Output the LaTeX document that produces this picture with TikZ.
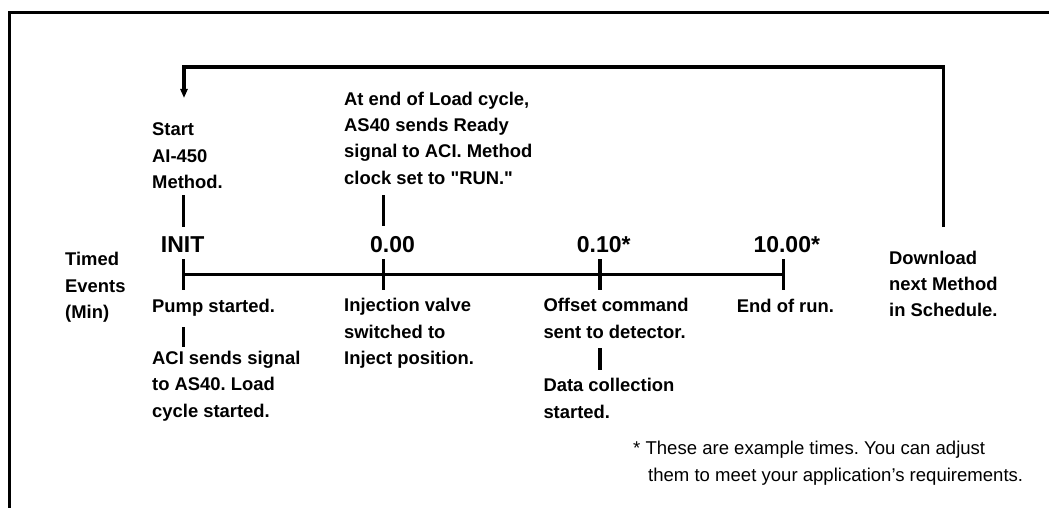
\documentclass[tikz,border=0pt]{standalone}
\usepackage{fontspec}
\setmainfont{Liberation Sans}
\usetikzlibrary{arrows.meta}
\frenchspacing
\begin{document}
\begin{tikzpicture}[x=1pt,y=-1pt,
  lbl/.style={font=\fontsize{18.4}{26.3}\selectfont\bfseries\frenchspacing, align=left, inner sep=0pt, anchor=base west},
  num/.style={font=\fontsize{23}{27}\selectfont\bfseries, inner sep=0pt, anchor=base west},
  note/.style={font=\fontsize{18.55}{27.5}\selectfont\frenchspacing, align=left, inner sep=0pt, anchor=base west},
  bar/.style={line width=3.5pt},
  frame/.style={line width=3.3pt},
  loopline/.style={line width=3.3pt, line join=miter, -{Triangle[length=9pt,width=7pt]}},
]
\useasboundingbox (0,0) rectangle (1049,508);
% open frame
\coordinate (fb) at (9.5,508);
\coordinate (fc) at (9.5,12.5);
\coordinate (fr) at (1049,12.5);
\draw[frame] (fb) -- (fc) -- (fr);

% timeline
\coordinate (t0) at (183.5,274.5);
\coordinate (t1) at (383.5,274.5);
\coordinate (t2) at (600,274.5);
\coordinate (t3) at (783.5,274.5);
\draw[bar] (t0) -- (t3);
\foreach \t in {t0,t1,t2,t3}{
  \draw[bar] ([yshift=15.5pt]\t) -- ([yshift=-15.5pt]\t);
}

% time labels
\node[num] (init) at (160.7,252) {INIT};
\node[num] (n0) at (370,252) {0.00};
\node[num] (n1) at (576.7,252) {0.10*};
\node[num] (n2) at (753.3,252) {10.00*};

% upper labels (anchor = baseline of last line)
\node[lbl] (start) at (152,188.5) {Start\\AI-450\\Method.};
\node[lbl] (atend) at (344,184) {At end of Load cycle,\\AS40 sends Ready\\signal to ACI. Method\\clock set to \textquotedbl RUN.\textquotedbl};
\coordinate (s1) at (183.5,195);
\coordinate (s2) at (183.5,227);
\coordinate (a1) at (383.5,195);
\coordinate (a2) at (383.5,226);
\draw[bar] (s1) -- (s2);
\draw[bar] (a1) -- (a2);

% side labels
\node[lbl] (timed) at (65,318.5) {Timed\\Events\\(Min)};
\node[lbl] (download) at (889,316.7) {Download\\next Method\\in Schedule.};

% lower labels
\node[lbl] (pump) at (152,312) {Pump started.};
\node[lbl] (aci) at (152,417) {ACI sends signal\\to AS40. Load\\cycle started.};
\node[lbl] (inj) at (344,364.5) {Injection valve\\switched to\\Inject position.};
\node[lbl] (offset) at (543.3,338) {Offset command\\sent to detector.};
\node[lbl] (data) at (543.3,418) {Data collection\\started.};
\node[lbl] (endrun) at (736.7,312) {End of run.};
\coordinate (p1) at (183.5,327);
\coordinate (p2) at (183.5,347);
\coordinate (o1) at (600,348);
\coordinate (o2) at (600,370);
\draw[bar] (p1) -- (p2);
\draw[bar] (o1) -- (o2);

% loop back
\coordinate (l1) at (943.5,227);
\coordinate (l2) at (943.5,67);
\coordinate (l3) at (184,67);
\coordinate (l4) at (184,98);
\draw[loopline] (l1) -- (l2) -- (l3) -- (l4);

% footnote
\node[note] (fn) at (633,481.5) {* These are example times. You can adjust\\\hspace*{15pt}them to meet your application’s requirements.};
\end{tikzpicture}
\end{document}
